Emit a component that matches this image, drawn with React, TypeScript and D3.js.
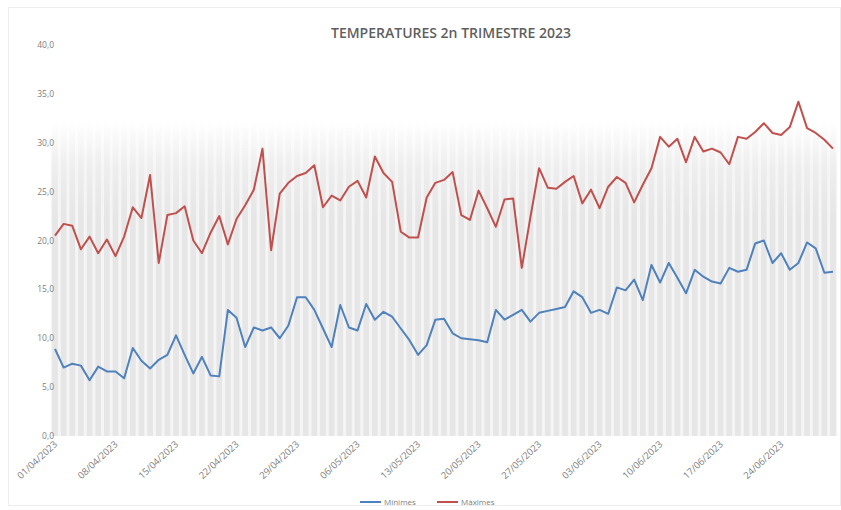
import React, { useEffect, useRef } from "react";
import * as d3 from "d3";

// daily temperatures 01/04/2023 .. 30/06/2023
const startDate = "2023-04-01";
const endDate = "2023-06-30";

const minimes: number[] = [
  8.9, 7.0, 7.4, 7.2, 5.7, 7.1, 6.6, 6.6, 5.9, 9.0,
  7.7, 6.9, 7.8, 8.3, 10.3, 8.3, 6.4, 8.1, 6.2, 6.1,
  12.9, 12.1, 9.1, 11.1, 10.8, 11.1, 10.0, 11.3, 14.2, 14.2,
  12.9, 11.0, 9.1, 13.4, 11.1, 10.8, 13.5, 11.9, 12.7, 12.2,
  11.0, 9.8, 8.3, 9.3, 11.9, 12.0, 10.5, 10.0, 9.9, 9.8,
  9.6, 12.9, 11.9, 12.4, 12.9, 11.7, 12.6, 12.8, 13.0, 13.2,
  14.8, 14.2, 12.6, 12.9, 12.5, 15.2, 14.9, 16.0, 13.9, 17.5,
  15.7, 17.7, 16.2, 14.6, 17.0, 16.3, 15.8, 15.6, 17.2, 16.8,
  17.0, 19.7, 20.0, 17.7, 18.7, 17.0, 17.7, 19.8, 19.2, 16.7,
  16.8,
];

const maximes: number[] = [
  20.5, 21.7, 21.5, 19.1, 20.4, 18.7, 20.1, 18.4, 20.4, 23.4,
  22.3, 26.7, 17.7, 22.6, 22.8, 23.5, 20.0, 18.7, 20.8, 22.5,
  19.6, 22.2, 23.6, 25.2, 29.4, 19.0, 24.8, 25.9, 26.6, 26.9,
  27.7, 23.4, 24.6, 24.1, 25.5, 26.1, 24.4, 28.6, 26.9, 26.0,
  20.9, 20.3, 20.3, 24.4, 25.9, 26.2, 27.0, 22.6, 22.1, 25.1,
  23.3, 21.4, 24.2, 24.3, 17.2, 22.4, 27.4, 25.4, 25.3, 26.0,
  26.6, 23.8, 25.2, 23.3, 25.5, 26.5, 25.9, 23.9, 25.7, 27.4,
  30.6, 29.6, 30.4, 28.0, 30.6, 29.1, 29.4, 29.0, 27.8, 30.6,
  30.4, 31.1, 32.0, 31.0, 30.8, 31.6, 34.2, 31.5, 31.0, 30.3,
  29.4,
];

const tickLabels = [
  "01/04/2023", "08/04/2023", "15/04/2023", "22/04/2023", "29/04/2023",
  "06/05/2023", "13/05/2023", "20/05/2023", "27/05/2023", "03/06/2023",
  "10/06/2023", "17/06/2023", "24/06/2023",
];

const yTicks = [0, 5, 10, 15, 20, 25, 30, 35, 40];

const seriesNames = ["Mínimes", "Màximes"];
const seriesColors = ["#4f81bd", "#c0504d"];

const W = 841;
const H = 510;

const App: React.FC = () => {
  const ref = useRef<SVGSVGElement | null>(null);

  useEffect(() => {
    if (!ref.current) return;
    const svg = d3.select(ref.current);
    svg.selectAll("*").remove();

    const parse = d3.timeParse("%Y-%m-%d");
    const parseLabel = d3.timeParse("%d/%m/%Y");
    const fmt = d3.timeFormat("%d/%m/%Y");
    const days = d3.timeDay.range(parse(startDate)!, d3.timeDay.offset(parse(endDate)!, 1));

    const margin = { top: 45, right: 8, bottom: 74, left: 55 };

    const x = d3
      .scaleTime()
      .domain([days[0], days[days.length - 1]])
      .range([margin.left, W - margin.right]);

    const y = d3
      .scaleLinear()
      .domain([0, 40])
      .range([H - margin.bottom, margin.top]);

    // frame
    svg
      .append("rect")
      .attr("x", 8.5)
      .attr("y", 7.5)
      .attr("width", W - 9)
      .attr("height", H - 12)
      .attr("fill", "#fff")
      .attr("stroke", "#ececec");

    const defs = svg.append("defs");
    const mkGrad = (id: string, color: string, fadeEnd: string) => {
      const g = defs
        .append("linearGradient")
        .attr("id", id)
        .attr("x1", 0)
        .attr("y1", 0)
        .attr("x2", 0)
        .attr("y2", 1);
      g.append("stop").attr("offset", "0%").attr("stop-color", color).attr("stop-opacity", 0);
      g.append("stop").attr("offset", fadeEnd).attr("stop-color", color).attr("stop-opacity", 1);
      g.append("stop").attr("offset", "100%").attr("stop-color", color).attr("stop-opacity", 1);
    };
    mkGrad("bgGrad", "#f5f5f5", "15%");
    mkGrad("stripeGrad", "#e6e6e6", "30%");

    const step = x(days[1]) - x(days[0]);
    const top = 32;

    // soft background
    svg
      .append("rect")
      .attr("x", x(days[0]) - step / 2)
      .attr("width", x(days[days.length - 1]) - x(days[0]) + step)
      .attr("y", y(top))
      .attr("height", y(0) - y(top))
      .attr("fill", "url(#bgGrad)");

    // background stripes
    svg
      .append("g")
      .selectAll("rect")
      .data(days)
      .join("rect")
      .attr("x", (d) => x(d) - step * 0.33)
      .attr("width", step * 0.66)
      .attr("y", y(top))
      .attr("height", y(0) - y(top))
      .attr("fill", "url(#stripeGrad)");

    // y labels
    svg
      .append("g")
      .selectAll("text")
      .data(yTicks)
      .join("text")
      .attr("x", 54)
      .attr("y", (d) => y(d) + 3)
      .attr("text-anchor", "end")
      .attr("font-family", "'Open Sans', sans-serif")
      .attr("font-size", 8.5)
      .attr("fill", "#808080")
      .text((d) => d3.format(".1f")(d).replace(".", ","));

    // x labels
    svg
      .append("g")
      .selectAll("text")
      .data(tickLabels)
      .join("text")
      .attr("transform", (d) => `translate(${x(parseLabel(d)!) + 3},${y(0) + 9}) rotate(-43)`)
      .attr("text-anchor", "end")
      .attr("font-family", "'Open Sans', sans-serif")
      .attr("font-size", 9.5)
      .attr("fill", "#808080")
      .text((d) => fmt(parseLabel(d)!));

    // lines
    [minimes, maximes].forEach((vals, s) => {
      const line = d3
        .line<number>()
        .x((_, i) => x(days[i]))
        .y((v) => y(v));
      svg
        .append("path")
        .datum(vals)
        .attr("fill", "none")
        .attr("stroke", seriesColors[s])
        .attr("stroke-width", 2)
        .attr("stroke-linejoin", "round")
        .attr("d", line);
    });

    // title
    svg
      .append("text")
      .attr("x", 451)
      .attr("y", 38)
      .attr("text-anchor", "middle")
      .attr("font-family", "'Open Sans', sans-serif")
      .attr("font-weight", 600)
      .attr("font-size", 14)
      .attr("fill", "#5f5f5f")
      .text("TEMPERATURES 2n TRIMESTRE 2023");

    // legend
    const legend = svg.append("g").attr("transform", `translate(360,502)`);
    seriesNames.forEach((name, i) => {
      const ox = i * 77;
      legend
        .append("line")
        .attr("x1", ox)
        .attr("x2", ox + 21)
        .attr("y1", 0)
        .attr("y2", 0)
        .attr("stroke", seriesColors[i])
        .attr("stroke-width", 2);
      legend
        .append("text")
        .attr("x", ox + 24)
        .attr("y", 2.7)
        .attr("font-family", "'Open Sans', sans-serif")
        .attr("font-size", 8)
        .attr("fill", "#808080")
        .text(name);
    });
  }, []);

  return (
    <div style={{ position: "absolute", left: 0, top: 0 }}>
      <svg ref={ref} width={W} height={H} style={{ display: "block" }}></svg>
    </div>
  );
};

export default App;
